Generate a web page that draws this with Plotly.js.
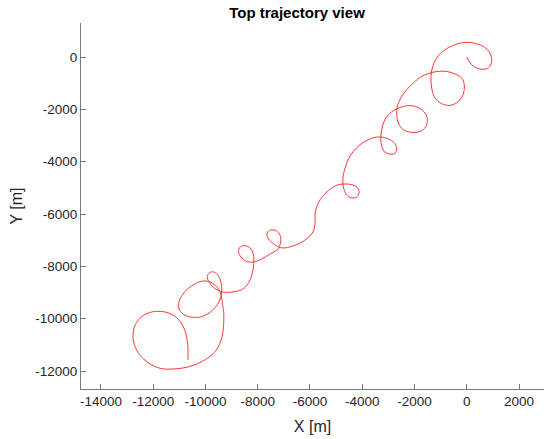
<!DOCTYPE html>
<html>
<head>
<meta charset="utf-8">
<script src="https://cdn.plot.ly/plotly-3.0.1.min.js"></script>
<style>html,body{margin:0;padding:0;background:#fff;}#chart{width:550px;height:439px;}</style>
</head>
<body>
<div id="chart"></div>
<script>
// Trajectory X positions [m]
const trajX = [
  0, 187, 505, 822, 952, 887, 631, 248, -69, -451, -833, -1151, -1319, -1369, -1342, -1216, -960, -642, -325, -134,
  -96, -195, -451, -768, -1090, -1407, -1724, -2045, -2298, -2489, -2657, -2680, -2619, -2428, -2106, -1789, -1560, -1510, -1598, -1816,
  -2106, -2428, -2745, -3001, -3165, -3253, -3292, -3253, -3165, -2963, -2772, -2680, -2745, -2936, -3192, -3445, -3766, -4083, -4339, -4530,
  -4656, -4721, -4744, -4695, -4568, -4362, -4186, -4121, -4209, -4400, -4656, -4913, -5165, -5421, -5612, -5738, -5803, -5803, -5830, -5929,
  -6121, -6377, -6694, -7015, -7206, -7397, -7589, -7650, -7550, -7332, -7168, -7115, -7168, -7245, -7524, -7841, -8162, -8441, -8644, -8735,
  -8671, -8479, -8288, -8185, -8147, -8162, -8223, -8353, -8567, -8862, -9179, -9370, -9500, -9691, -9867, -9932, -9844, -9691, -9538, -9435,
  -9385, -9385, -9473, -9626, -9856, -10200, -10582, -10861, -11014, -11014, -10899, -10685, -10391, -10073, -9817, -9626, -9485, -9397, -9347, -9309,
  -9309, -9397, -9626, -10008, -10582, -11220, -11729, -12176, -12520, -12723, -12773, -12684, -12428, -12111, -11729, -11347, -11029, -10800, -10685, -10670
];
// Trajectory Y positions [m]
const trajY = [
  0, -294, -459, -420, -168, 153, 405, 535, 558, 470, 279, -38, -420, -741, -1185, -1567, -1784, -1849, -1697, -1414,
  -1058, -802, -650, -550, -550, -611, -741, -993, -1249, -1505, -1888, -2205, -2522, -2778, -2881, -2843, -2652, -2369, -2140, -1949,
  -1861, -1888, -2014, -2205, -2461, -2778, -3095, -3416, -3607, -3706, -3695, -3515, -3313, -3160, -3072, -3057, -3160, -3351, -3607, -3897,
  -4241, -4497, -4815, -5071, -5300, -5388, -5327, -5136, -4967, -4880, -4853, -4880, -5006, -5223, -5453, -5709, -5961, -6282, -6534, -6752,
  -6943, -7107, -7237, -7298, -7260, -7134, -6954, -6763, -6626, -6626, -6763, -6981, -7237, -7363, -7527, -7718, -7833, -7810, -7642, -7428,
  -7260, -7210, -7298, -7489, -7745, -8001, -8319, -8635, -8865, -8968, -8995, -8979, -8930, -8804, -8597, -8383, -8242, -8215, -8318, -8510,
  -8765, -9018, -9339, -9568, -9782, -9935, -9935, -9820, -9618, -9361, -9109, -8865, -8662, -8559, -8597, -8727, -8892, -9109, -9465, -9656,
  -10294, -10802, -11249, -11566, -11822, -11922, -11899, -11692, -11375, -10993, -10611, -10229, -9912, -9759, -9721, -9809, -10038, -10420, -10928, -11566
];
const xTickVals = [-14000, -12000, -10000, -8000, -6000, -4000, -2000, 0, 2000];
const xTickText = ["-14000", "-12000", "-10000", "-8000", "-6000", "-4000", "-2000", "0", "2000"];
const yTickVals = [0, -2000, -4000, -6000, -8000, -10000, -12000];
const yTickText = ["0", "-2000", "-4000", "-6000", "-8000", "-10000", "-12000"];

const axisColor = '#7a7a7a';
const textColor = '#262626';
const fontFam = 'Liberation Sans, Arial, Helvetica, sans-serif';

const trace = {
  x: trajX, y: trajY, type: 'scatter', mode: 'lines',
  line: {color: '#ff3535', width: 1, shape: 'spline', smoothing: 1},
  hoverinfo: 'skip'
};

const layout = {
  width: 550, height: 439,
  margin: {l: 81, r: 6, t: 23, b: 50, pad: 0},
  paper_bgcolor: '#ffffff', plot_bgcolor: '#ffffff',
  font: {family: fontFam, color: textColor},
  showlegend: false,
  title: {
    text: '<b>Top trajectory view</b>',
    font: {family: fontFam, size: 15, color: '#000000'},
    x: 0.54, xref: 'container', xanchor: 'center',
    y: 0.972, yref: 'container', yanchor: 'middle'
  },
  xaxis: {
    range: [-14764, 2956], autorange: false,
    showline: true, linecolor: axisColor, linewidth: 1, mirror: false,
    ticks: 'inside', ticklen: 5, tickwidth: 1, tickcolor: axisColor,
    tickvals: xTickVals, ticktext: xTickText,
    showgrid: false, zeroline: false,
    tickfont: {family: fontFam, size: 13.5, color: textColor},
    title: {text: 'X [m]', font: {family: fontFam, size: 16, color: textColor}, standoff: 12}
  },
  yaxis: {
    range: [-12688, 1300], autorange: false,
    showline: true, linecolor: axisColor, linewidth: 1, mirror: false,
    ticks: 'inside', ticklen: 5, tickwidth: 1, tickcolor: axisColor,
    tickvals: yTickVals, ticktext: yTickText,
    showgrid: false, zeroline: false,
    tickfont: {family: fontFam, size: 13.5, color: textColor},
    title: {text: 'Y [m]', font: {family: fontFam, size: 16, color: textColor}, standoff: 8}
  }
};

Plotly.newPlot('chart', [trace], layout, {staticPlot: true, displayModeBar: false});
</script>
</body>
</html>
